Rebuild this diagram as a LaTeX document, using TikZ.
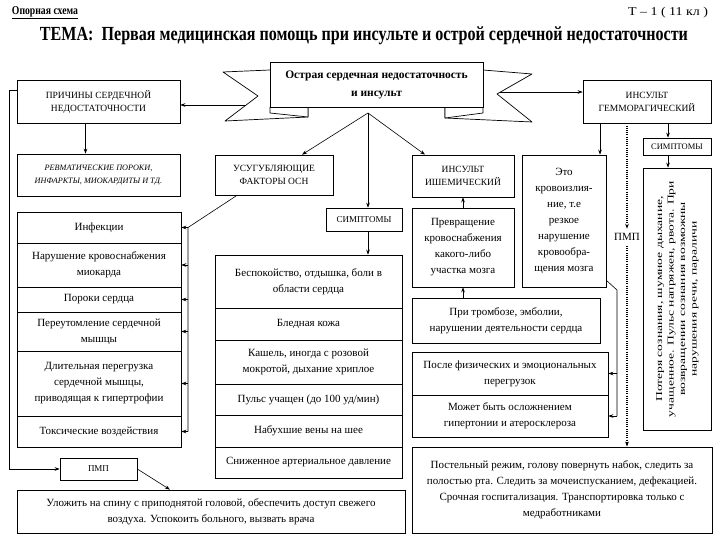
\documentclass[tikz,border=0pt]{standalone}
\usepackage{fontspec}
\setmainfont{Liberation Serif}
\usetikzlibrary{arrows.meta,shadows,calc}
\tikzset{
 box/.style={draw, line width=0.7pt, fill=white, align=center, inner sep=1pt, font=\fontsize{11}{16}\selectfont},
 capstext/.style={font=\fontsize{9.5}{13}\selectfont},
 sh/.style={general shadow={fill=black, shadow xshift=1.3pt, shadow yshift=-1.3pt}},
 arr/.style={-{Stealth[length=5pt,width=3.6pt]}, line width=0.6pt},
 dotarr/.style={arr, line width=1.1pt, dash pattern=on 1.1pt off 1.1pt},
 ribbon/.style={draw, line width=0.7pt, fill=white, line join=round},
}
\newcommand\mybox[7]{\node[box,#6,minimum width={(#4-#2)*1pt},minimum height={(#5-#3)*1pt}] (#1) at ({(#2+#4)/2},{(#3+#5)/2}) {#7};}
\begin{document}
\begin{tikzpicture}[x=1pt,y=-1pt]
\fill[white] (0,0) rectangle (720,540);
\useasboundingbox (0,0) rectangle (720,540);

% header
\node[inner sep=0] (hdr) at (45,13) {\resizebox{66pt}{\height}{\fontsize{12}{14}\selectfont\bfseries\underline{Опорная схема}}};
\node[inner sep=0] (tl) at (668,13) {\resizebox{80pt}{\height}{\fontsize{12}{14}\selectfont Т – 1 ( 11 кл )}};
\node[inner sep=0] (title) at (364,36) {\resizebox{648pt}{\height}{\fontsize{20}{22}\selectfont\bfseries ТЕМА:\ \ Первая медицинская помощь при инсульте и острой сердечной недостаточности}};

% ribbon banner
\draw[ribbon] (270,70) -- (223,72) -- (258,96) -- (225,121) -- (308,117) -- (308,107) -- cycle;
\draw[ribbon] (270,107) -- (270,113) -- (308,117) -- (308,107);
\draw[ribbon] (483,70) -- (532,74) -- (497,94) -- (532,122) -- (445,118) -- (445,107) -- cycle;
\draw[ribbon] (483,107) -- (483,113) -- (445,118) -- (445,107);
\node[draw, fill=white, line width=0.8pt, minimum width=213pt, minimum height=45pt, align=center, font=\fontsize{11.5}{18}\selectfont\bfseries] (banner) at (376.5,84.5) {Острая сердечная недостаточность\\и инсульт};

% boxes
\mybox{prich}{17}{80}{180}{123}{capstext}{ПРИЧИНЫ СЕРДЕЧНОЙ\\НЕДОСТАТОЧНОСТИ}
\mybox{revm}{17}{154}{180}{196}{font=\fontsize{8.2}{13}\selectfont\itshape}{РЕВМАТИЧЕСКИЕ ПОРОКИ,\\ИНФАРКТЫ, МИОКАРДИТЫ И ТД.}
\mybox{usug}{215}{155}{333}{195}{capstext}{УСУГУБЛЯЮЩИЕ\\ФАКТОРЫ ОСН}
\mybox{isch}{412}{155}{514}{197}{capstext}{ИНСУЛЬТ\\ИШЕМИЧЕСКИЙ}
\mybox{gem}{583}{80}{711}{123}{capstext}{ИНСУЛЬТ\\ГЕММОРАГИЧЕСКИЙ}
\mybox{simR}{643}{138}{711}{155}{font=\fontsize{8.5}{10}\selectfont}{СИМПТОМЫ}
\mybox{simM}{326}{208}{402}{231}{font=\fontsize{9}{10}\selectfont}{СИМПТОМЫ}
\mybox{eto}{522}{155}{606}{287}{}{Это\\кровоизлия-\\ние, т.е\\резкое\\нарушение\\кровообра-\\щения мозга}
\mybox{prev}{412}{208}{514}{287}{}{Превращение\\кровоснабжения\\какого-либо\\участка мозга}
\mybox{trom}{412}{298}{600}{343}{sh}{При тромбозе, эмболии,\\нарушении деятельности сердца}
\mybox{posle}{412}{352}{608}{395}{}{После физических и эмоциональных\\перегрузок}
\mybox{mozh}{412}{395}{608}{437}{}{Может быть осложнением\\гипертонии и атеросклероза}
\mybox{postel}{412}{447}{712}{533}{sh}{Постельный режим, голову повернуть набок, следить за\\полостью рта. Следить за мочеиспусканием, дефекацией.\\Срочная госпитализация. Транспортировка только с\\медработниками}
\mybox{pmpL}{60}{458}{137}{480}{font=\fontsize{9}{10}\selectfont}{ПМП}
\mybox{ulozh}{17}{490}{405}{533}{}{Уложить на спину с приподнятой головой, обеспечить доступ свежего\\воздуха. Успокоить больного, вызвать врача}
\mybox{vert}{643}{168}{711}{430}{}{\rotatebox{90}{\resizebox{236pt}{\height}{\fontsize{9}{11.5}\selectfont\begin{tabular}{@{}c@{}}Потеря сознания, шумное дыхание,\\учащенное. Пульс напряжен, рвота. При\\возвращении сознания возможны\\нарушения речи, параличи\end{tabular}}}}

% left list
\mybox{l1}{17}{212}{181}{243}{}{Инфекции}
\mybox{l2}{17}{243}{181}{287}{}{Нарушение кровоснабжения\\миокарда}
\mybox{l3}{17}{287}{181}{312}{}{Пороки сердца}
\mybox{l4}{17}{312}{181}{351}{}{Переутомление сердечной\\мышцы}
\mybox{l5}{17}{351}{181}{416}{}{Длительная перегрузка\\сердечной мышцы,\\приводящая к гипертрофии}
\mybox{l6}{17}{416}{181}{447}{}{Токсические воздействия}

% middle list
\mybox{m1}{215}{255}{402}{308}{sh}{Беспокойство, отдышка, боли в\\области сердца}
\mybox{m2}{215}{308}{402}{340}{sh}{Бледная кожа}
\mybox{m3}{215}{340}{402}{384}{sh}{Кашель, иногда с розовой\\мокротой, дыхание хриплое}
\mybox{m4}{215}{384}{402}{415}{sh}{Пульс учащен (до 100 уд/мин)}
\mybox{m5}{215}{415}{402}{447}{sh}{Набухшие вены на шее}
\mybox{m6}{215}{447}{402}{478}{sh}{Сниженное артериальное давление}

% connectors from banner
\coordinate (lt) at (245,105);
\draw[arr] (lt) -- (lt -| prich.east);
\coordinate (rt) at (500,92);
\draw[arr] (rt) -- (rt -| gem.west);
\coordinate (bb) at (368,113);
\draw[arr] (bb) -- ([xshift=28pt]usug.north);
\draw[arr] (bb) -- ([xshift=-38pt]isch.north);
\draw[arr] (bb) -- (bb |- simM.north);
\draw[arr] (bb |- simM.south) -- (bb |- m1.north);

% left side
\coordinate (ps) at ([xshift=-13pt]prich.south);
\draw[arr] (ps) -- (ps |- revm.north);
\draw[arr] ([yshift=11.5pt]prich.west) -- ++(-7,0) |- (pmpL.west);
\draw[arr] (pmpL.east) -- ([xshift=-41pt]ulozh.north);
\coordinate (us) at ([xshift=-37pt]usug.south);
\coordinate (br) at (188,0);
\draw[line width=0.6pt] (us) -- (br |- l1.east) -- (br |- l6.east);
\foreach \n in {l1,l2,l3,l4,l5,l6} \draw[arr] (br |- \n.east) -- (\n.east);

% ischemic branch
\draw[arr] (prev.north) -- (isch.south);
\draw[arr] (trom.north -| prev.south) -- (prev.south);

% hemorrhagic branch
\coordinate (g1) at ([xshift=-47pt]gem.south);
\draw[arr] (g1) -- (g1 |- eto.north);
\coordinate (g2) at ([xshift=21pt]gem.south);
\draw[arr] (g2) -- (g2 |- simR.north);
\draw[arr] (g2 |- simR.south) -- (g2 |- vert.north);
\coordinate (g3) at ([xshift=-20pt]gem.south);
\node[font=\fontsize{11}{12}\selectfont, inner sep=1pt, outer sep=4pt] (pmpR) at ([yshift=-114pt]g3) {ПМП};
\draw[dotarr] (g3) -- (pmpR.north);
\draw[dotarr] (pmpR.south) -- (pmpR.south |- postel.north);
\coordinate (e1) at ([yshift=7pt]eto.south east);
\coordinate (e2) at (617,290);
\draw[line width=0.6pt] (e1) -- (e2) -- (e2 |- mozh.east);
\draw[arr] (e2 |- posle.east) -- (posle.east);
\draw[arr] (e2 |- mozh.east) -- (mozh.east);
\end{tikzpicture}
\end{document}
